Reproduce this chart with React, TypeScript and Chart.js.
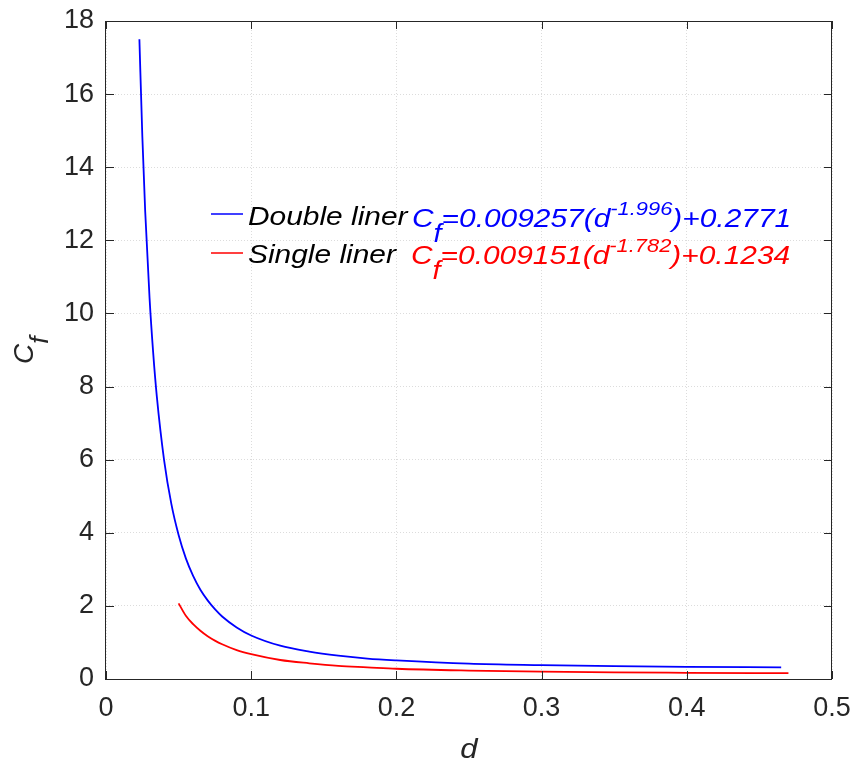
import { useEffect, useRef } from 'react';
import { Chart, registerables } from 'chart.js';

Chart.register(...registerables);

// ---- data ----
const doubleD = [0.023, 0.025, 0.027, 0.03, 0.0325, 0.035, 0.04, 0.045, 0.05, 0.055, 0.06, 0.065, 0.07, 0.075, 0.08, 0.09, 0.1, 0.12, 0.14, 0.16, 0.18, 0.2, 0.25, 0.3, 0.35, 0.4, 0.465];
const doubleCf = [17.5, 14.87, 12.79, 10.42, 8.92, 7.73, 5.99, 4.79, 3.94, 3.3, 2.82, 2.44, 2.15, 1.91, 1.71, 1.41, 1.19, 0.91, 0.75, 0.64, 0.56, 0.51, 0.42, 0.38, 0.35, 0.33, 0.32];
const singleD = [0.05, 0.055, 0.06, 0.065, 0.07, 0.075, 0.08, 0.09, 0.1, 0.12, 0.14, 0.16, 0.18, 0.2, 0.25, 0.3, 0.35, 0.4, 0.47];
const singleCf = [2.07, 1.73, 1.5, 1.32, 1.17, 1.05, 0.95, 0.79, 0.68, 0.52, 0.43, 0.36, 0.32, 0.28, 0.23, 0.2, 0.18, 0.17, 0.16];

const xTickValues = [0, 0.1, 0.2, 0.3, 0.4, 0.5];
const xTickLabels = ['0', '0.1', '0.2', '0.3', '0.4', '0.5'];
const yTickValues = [0, 2, 4, 6, 8, 10, 12, 14, 16, 18];
const yTickLabels = ['0', '2', '4', '6', '8', '10', '12', '14', '16', '18'];

const seriesNames = ['Double liner', 'Single liner'];
const seriesColors = ['#0000ff', '#ff0000'];
const doubleEqParts = ['C', 'f', '=0.009257(d', '-1.996', ')+0.2771'];
const singleEqParts = ['C', 'f', '=0.009151(d', '-1.782', ')+0.1234'];
const xTitle = 'd';
const yTitleParts = ['C', 'f'];

const FONT = '"Liberation Sans", Arial, Helvetica, sans-serif';
const TEXT = '#262626';
const SX = 1.15;

type Part = { t: string; size: number; dy: number; color: string };

function drawRich(ctx: CanvasRenderingContext2D, x: number, y: number, parts: Part[], sx: number) {
  ctx.save();
  ctx.translate(x, y);
  ctx.scale(sx, 1);
  ctx.textAlign = 'left';
  ctx.textBaseline = 'alphabetic';
  let cx = 0;
  for (const p of parts) {
    ctx.font = `italic ${p.size}px ${FONT}`;
    ctx.fillStyle = p.color;
    ctx.fillText(p.t, cx, p.dy);
    cx += ctx.measureText(p.t).width;
  }
  ctx.restore();
}

function eqParts(parts: string[], color: string): Part[] {
  return [
    { t: parts[0], size: 26, dy: 0, color },
    { t: parts[1], size: 25, dy: 15, color },
    { t: parts[2], size: 26, dy: 0, color },
    { t: parts[3], size: 19, dy: -12, color },
    { t: parts[4], size: 26, dy: 0, color },
  ];
}

const decorPlugin = {
  id: 'decor',
  afterDraw(chart: any) {
    const ctx: CanvasRenderingContext2D = chart.ctx;
    const { left, right, top, bottom } = chart.chartArea;
    const xs = chart.scales.x;
    const ys = chart.scales.y;
    ctx.save();
    // box
    ctx.strokeStyle = TEXT;
    ctx.lineWidth = 1;
    ctx.strokeRect(left - 0.5, top + 0.5, right - left, bottom - top);
    // inward ticks
    ctx.beginPath();
    const tl = 8;
    for (const v of xTickValues) {
      const px = Math.round(xs.getPixelForValue(v)) + 0.5;
      ctx.moveTo(px, bottom);
      ctx.lineTo(px, bottom - tl);
      ctx.moveTo(px, top);
      ctx.lineTo(px, top + tl);
    }
    for (const v of yTickValues) {
      const py = Math.round(ys.getPixelForValue(v)) + 0.5;
      ctx.moveTo(left, py);
      ctx.lineTo(left + tl, py);
      ctx.moveTo(right, py);
      ctx.lineTo(right - tl, py);
    }
    ctx.stroke();

    // legend (no box)
    const legendRows = [
      { y: 214, ty: 225, name: seriesNames[0], color: seriesColors[0], eq: doubleEqParts, ex: 412, ey: 227 },
      { y: 253, ty: 263, name: seriesNames[1], color: seriesColors[1], eq: singleEqParts, ex: 411, ey: 264 },
    ];
    for (const r of legendRows) {
      ctx.strokeStyle = r.color;
      ctx.lineWidth = 1.5;
      ctx.beginPath();
      ctx.moveTo(211, r.y);
      ctx.lineTo(243, r.y);
      ctx.stroke();
      drawRich(ctx, 248, r.ty, [{ t: r.name, size: 26, dy: 0, color: '#000000' }], SX);
      drawRich(ctx, r.ex, r.ey, eqParts(r.eq, r.color), SX);
    }

    // x axis title
    ctx.font = `italic 27px ${FONT}`;
    const w = ctx.measureText(xTitle).width * SX;
    drawRich(ctx, (left + right) / 2 - w / 2, 758, [{ t: xTitle, size: 27, dy: 0, color: TEXT }], SX);

    // y axis title
    ctx.save();
    ctx.translate(33, (top + bottom) / 2 + 14);
    ctx.rotate(-Math.PI / 2);
    drawRich(ctx, 0, 0, [
      { t: yTitleParts[0], size: 28, dy: 0, color: TEXT },
      { t: yTitleParts[1], size: 26, dy: 15, color: TEXT },
    ], 1);
    ctx.restore();
    ctx.restore();
  },
};

export default function App() {
  const ref = useRef<HTMLCanvasElement | null>(null);
  useEffect(() => {
    if (!ref.current) return;
    const chart = new Chart(ref.current, {
      type: 'line',
      data: {
        datasets: [
          {
            label: seriesNames[0],
            data: doubleD.map((d, i) => ({ x: d, y: doubleCf[i] })),
            borderColor: seriesColors[0],
            backgroundColor: seriesColors[0],
            borderWidth: 1.8,
            pointRadius: 0,
            cubicInterpolationMode: 'monotone',
            fill: false,
          },
          {
            label: seriesNames[1],
            data: singleD.map((d, i) => ({ x: d, y: singleCf[i] })),
            borderColor: seriesColors[1],
            backgroundColor: seriesColors[1],
            borderWidth: 1.8,
            pointRadius: 0,
            cubicInterpolationMode: 'monotone',
            fill: false,
          },
        ],
      },
      options: {
        animation: false,
        responsive: false,
        maintainAspectRatio: false,
        layout: { padding: { top: 21, right: 23, left: 0, bottom: 0 } },
        plugins: {
          legend: { display: false },
          tooltip: { enabled: false },
          title: { display: false },
        },
        scales: {
          x: {
            type: 'linear',
            min: 0,
            max: 0.5,
            afterBuildTicks: (scale: any) => {
              scale.ticks = xTickValues.map((v) => ({ value: v }));
            },
            afterFit: (scale: any) => {
              scale.height = 81;
              scale.paddingLeft = 0;
              scale.paddingRight = 0;
            },
            ticks: {
              color: TEXT,
              font: { family: FONT, size: 27 },
              padding: 13,
              maxRotation: 0,
              autoSkip: false,
              callback: (_v: any, i: number) => xTickLabels[i],
            },
            grid: { color: '#dcdcdc', drawTicks: false, lineWidth: 1 },
            border: { display: false, dash: [1, 2] },
          },
          y: {
            type: 'linear',
            min: 0,
            max: 18,
            afterBuildTicks: (scale: any) => {
              scale.ticks = yTickValues.map((v) => ({ value: v }));
            },
            afterFit: (scale: any) => {
              scale.width = 106;
              scale.paddingTop = 0;
              scale.paddingBottom = 0;
            },
            ticks: {
              color: TEXT,
              font: { family: FONT, size: 27 },
              padding: 12,
              autoSkip: false,
              callback: (_v: any, i: number) => yTickLabels[i],
            },
            grid: { color: '#dcdcdc', drawTicks: false, lineWidth: 1 },
            border: { display: false, dash: [1, 2] },
          },
        },
      },
      plugins: [decorPlugin],
    } as any);
    return () => chart.destroy();
  }, []);
  return (
    <div style={{ position: 'absolute', left: 0, top: 0, width: 855, height: 760, background: '#ffffff' }}>
      <canvas ref={ref} width={855} height={760} style={{ display: 'block', width: 855, height: 760 }} />
    </div>
  );
}
